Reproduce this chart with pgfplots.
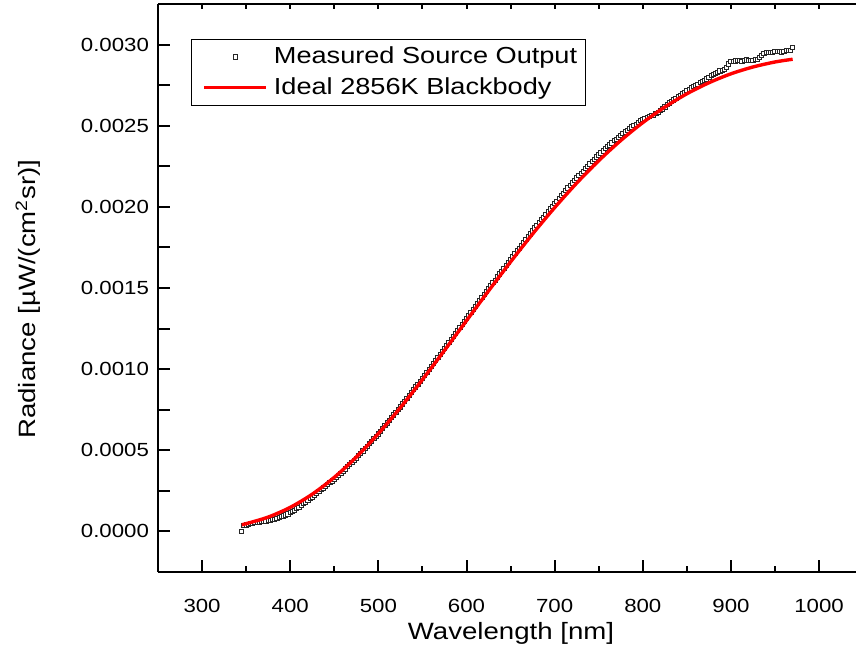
\documentclass[border=0pt]{standalone}
\usepackage{fontspec}
\setmainfont{Liberation Sans}[FakeStretch=1.17]
\usepackage{pgfplots}
\usepackage{pgfplotstable}
\pgfplotsset{compat=1.18}

\pgfplotstableread{
x y
345 0.000e-3
347.5 0.036e-3
350 0.040e-3
352.5 0.044e-3
355 0.047e-3
357.5 0.050e-3
360 0.053e-3
362.5 0.056e-3
365 0.058e-3
367.5 0.061e-3
370 0.063e-3
372.5 0.065e-3
375 0.067e-3
377.5 0.070e-3
380 0.073e-3
382.5 0.076e-3
385 0.080e-3
387.5 0.085e-3
390 0.090e-3
392.5 0.095e-3
395 0.101e-3
397.5 0.108e-3
400 0.115e-3
402.5 0.123e-3
405 0.131e-3
407.5 0.140e-3
410 0.150e-3
412.5 0.160e-3
415 0.170e-3
417.5 0.181e-3
420 0.191e-3
422.5 0.201e-3
425 0.212e-3
427.5 0.224e-3
430 0.235e-3
432.5 0.246e-3
435 0.257e-3
437.5 0.268e-3
440 0.279e-3
442.5 0.290e-3
445 0.301e-3
447.5 0.311e-3
450 0.322e-3
452.5 0.334e-3
455 0.346e-3
457.5 0.359e-3
460 0.372e-3
462.5 0.385e-3
465 0.398e-3
467.5 0.411e-3
470 0.424e-3
472.5 0.437e-3
475 0.451e-3
477.5 0.466e-3
480 0.481e-3
482.5 0.496e-3
485 0.511e-3
487.5 0.526e-3
490 0.541e-3
492.5 0.556e-3
495 0.571e-3
497.5 0.586e-3
500 0.601e-3
502.5 0.618e-3
505 0.635e-3
507.5 0.652e-3
510 0.668e-3
512.5 0.684e-3
515 0.701e-3
517.5 0.718e-3
520 0.734e-3
522.5 0.750e-3
525 0.767e-3
527.5 0.785e-3
530 0.802e-3
532.5 0.820e-3
535 0.838e-3
537.5 0.856e-3
540 0.873e-3
542.5 0.890e-3
545 0.908e-3
547.5 0.926e-3
550 0.944e-3
552.5 0.962e-3
555 0.980e-3
557.5 0.999e-3
560 1.017e-3
562.5 1.035e-3
565 1.053e-3
567.5 1.072e-3
570 1.090e-3
572.5 1.108e-3
575 1.126e-3
577.5 1.145e-3
580 1.163e-3
582.5 1.181e-3
585 1.200e-3
587.5 1.219e-3
590 1.237e-3
592.5 1.255e-3
595 1.274e-3
597.5 1.293e-3
600 1.311e-3
602.5 1.329e-3
605 1.348e-3
607.5 1.367e-3
610 1.385e-3
612.5 1.403e-3
615 1.422e-3
617.5 1.441e-3
620 1.459e-3
622.5 1.477e-3
625 1.496e-3
627.5 1.515e-3
630 1.532e-3
632.5 1.549e-3
635 1.568e-3
637.5 1.587e-3
640 1.604e-3
642.5 1.621e-3
645 1.639e-3
647.5 1.658e-3
650 1.675e-3
652.5 1.692e-3
655 1.711e-3
657.5 1.730e-3
660 1.746e-3
662.5 1.762e-3
665 1.782e-3
667.5 1.801e-3
670 1.817e-3
672.5 1.833e-3
675 1.852e-3
677.5 1.870e-3
680 1.886e-3
682.5 1.902e-3
685 1.920e-3
687.5 1.937e-3
690 1.953e-3
692.5 1.969e-3
695 1.987e-3
697.5 2.004e-3
700 2.020e-3
702.5 2.035e-3
705 2.052e-3
707.5 2.069e-3
710 2.084e-3
712.5 2.099e-3
715 2.116e-3
717.5 2.132e-3
720 2.147e-3
722.5 2.162e-3
725 2.178e-3
727.5 2.194e-3
730 2.207e-3
732.5 2.220e-3
735 2.236e-3
737.5 2.251e-3
740 2.264e-3
742.5 2.278e-3
745 2.293e-3
747.5 2.308e-3
750 2.320e-3
752.5 2.332e-3
755 2.345e-3
757.5 2.359e-3
760 2.370e-3
762.5 2.381e-3
765 2.394e-3
767.5 2.407e-3
770 2.417e-3
772.5 2.428e-3
775 2.441e-3
777.5 2.453e-3
780 2.462e-3
782.5 2.471e-3
785 2.482e-3
787.5 2.493e-3
790 2.502e-3
792.5 2.510e-3
795 2.520e-3
797.5 2.530e-3
800 2.537e-3
802.5 2.543e-3
805 2.550e-3
807.5 2.557e-3
810 2.561e-3
812.5 2.565e-3
815 2.574e-3
817.5 2.584e-3
820 2.592e-3
822.5 2.603e-3
825 2.616e-3
827.5 2.629e-3
830 2.640e-3
832.5 2.649e-3
835 2.659e-3
837.5 2.669e-3
840 2.678e-3
842.5 2.687e-3
845 2.697e-3
847.5 2.707e-3
850 2.716e-3
852.5 2.724e-3
855 2.733e-3
857.5 2.742e-3
860 2.749e-3
862.5 2.756e-3
865 2.765e-3
867.5 2.774e-3
870 2.780e-3
872.5 2.788e-3
875 2.798e-3
877.5 2.808e-3
880 2.815e-3
882.5 2.821e-3
885 2.829e-3
887.5 2.837e-3
890 2.842e-3
892.5 2.848e-3
895 2.858e-3
897.5 2.880e-3
900 2.895e-3
902.5 2.897e-3
905 2.899e-3
907.5 2.903e-3
910 2.902e-3
912.5 2.898e-3
915 2.900e-3
917.5 2.905e-3
920 2.904e-3
922.5 2.901e-3
925 2.903e-3
927.5 2.908e-3
930 2.910e-3
932.5 2.922e-3
935 2.935e-3
937.5 2.944e-3
940 2.950e-3
942.5 2.953e-3
945 2.952e-3
947.5 2.950e-3
950 2.956e-3
952.5 2.960e-3
955 2.957e-3
957.5 2.955e-3
960 2.958e-3
962.5 2.963e-3
965 2.962e-3
967.5 2.966e-3
970 2.983e-3
}\measured

\pgfplotstableread{
x y
345 0.0417e-3
350 0.0478e-3
375 0.0884e-3
400 0.1482e-3
425 0.2296e-3
450 0.3333e-3
475 0.4584e-3
500 0.6028e-3
525 0.7633e-3
550 0.9355e-3
575 1.1155e-3
600 1.2991e-3
625 1.4822e-3
650 1.6611e-3
675 1.8332e-3
700 1.9955e-3
725 2.1465e-3
750 2.2845e-3
775 2.4091e-3
800 2.5193e-3
825 2.6150e-3
850 2.6969e-3
875 2.7647e-3
900 2.8199e-3
925 2.8619e-3
950 2.8928e-3
970 2.9096e-3
}\ideal

\begin{document}
\begin{tikzpicture}
\begin{axis}[
  scale only axis, width=352.6pt, height=284pt,
  xmin=250, xmax=1050, ymin=-0.00025, ymax=0.00325,
  axis x line*=bottom, axis y line*=left,
  axis line style={line width=1pt, black},
  every tick/.style={black, line width=1pt},
  tick align=inside,
  clip marker paths=true,
  xtick={300,400,500,600,700,800,900,1000},
  xticklabels={300,400,500,600,700,800,900,1000},
  minor x tick num=1,
  ytick={0,0.00025,0.0005,0.00075,0.001,0.00125,0.0015,0.00175,0.002,0.00225,0.0025,0.00275,0.003},
  yticklabels={0.0000,,0.0005,,0.0010,,0.0015,,0.0020,,0.0025,,0.0030},
  scaled y ticks=false, scaled x ticks=false,
  major tick length=6pt, minor tick length=3pt,
  ticklabel style={font=\fontsize{9.5}{11}\selectfont},
  xticklabel style={yshift=-10pt},
  yticklabel style={xshift=-1pt},
  xlabel={Wavelength [nm]},
  ylabel={Radiance [µW/(cm\textsuperscript{2}sr)]},
  label style={font=\fontsize{11.8}{14}\selectfont},
  xlabel style={at={(axis description cs:0.5006,-0.1074)}, anchor=center},
  ylabel style={at={(axis description cs:-0.1843,0.4806)}, anchor=center},
  legend style={at={(axis description cs:0.0468,0.9384)}, anchor=north west,
    draw=black, line width=0.5pt, inner xsep=2.5pt, inner ysep=2.25pt,
    font=\fontsize{11.6}{13}\selectfont, nodes={inner xsep=1.5pt, inner ysep=1.5pt},
    cells={anchor=west}, row sep=2.5pt, column sep=1.5pt},
  legend image code/.code={\path (0pt,0pt); \draw[mark repeat=2,mark phase=2,#1] plot coordinates {(3pt,0pt) (18.5pt,0pt) (34pt,0pt)};},
]
\addplot[only marks, mark=square*, mark size=1.05pt,
  mark options={fill=white, draw=black!85, line width=0.45pt}] table[x=x, y=y] {\measured};
\addlegendentry{Measured Source Output}
\addplot[red, line width=1.7pt, smooth, no marks] table[x=x, y=y] {\ideal};
\addlegendentry{Ideal 2856K Blackbody}
\end{axis}
\begin{axis}[
  scale only axis, width=352.6pt, height=284pt,
  xmin=250, xmax=1050, ymin=0, ymax=1,
  axis x line*=top, hide y axis,
  axis line style={line width=1pt, black},
  every tick/.style={black, line width=1pt},
  tick align=inside,
  xtick={300,400,500,600,700,800,900,1000},
  xticklabels={},
  minor x tick num=1,
  major tick length=2.5pt, minor tick length=2.5pt,
]
\addplot[draw=none] coordinates {(300,0.5)};
\end{axis}
\pgfresetboundingbox
\path (-79pt,-40.5pt) rectangle (349pt,286pt);
\end{tikzpicture}
\end{document}
